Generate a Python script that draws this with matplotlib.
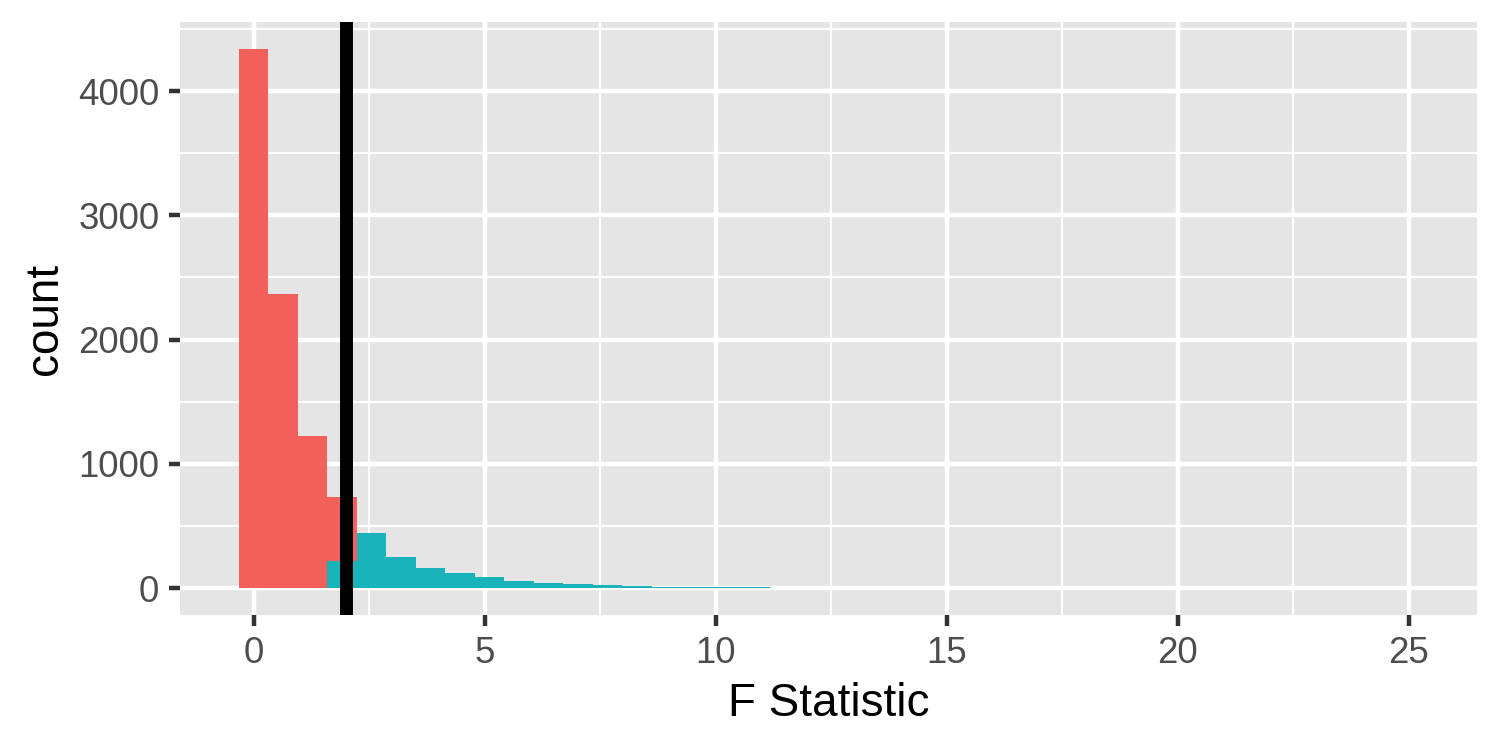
import matplotlib
matplotlib.use("Agg")
import matplotlib.pyplot as plt
import numpy as np
from matplotlib.ticker import MultipleLocator

# histogram bins (40 bins, ggplot style)
bin_start = -0.32
bin_width = 0.638
n_bins = 40

# counts per bin: F below the critical value / above it
count_below = [4340, 2369, 1223, 516] + [0] * 36
count_above = [0, 0, 0, 215, 441, 247, 159, 119, 86, 54,
               39, 36, 23, 20, 11, 9, 8, 8, 4, 2,
               3, 2, 3, 3, 1, 0, 1, 0, 0, 0,
               1, 0, 0, 0, 0, 0, 0, 0, 0, 1]
f_critical = 2.0

x_ticks = [0, 5, 10, 15, 20, 25]
y_ticks = [0, 1000, 2000, 3000, 4000]

red = "#F35F5B"
teal = "#19B4B9"
panel_bg = "#E5E5E5"

plt.rcParams["font.family"] = ["Liberation Sans", "DejaVu Sans"]

fig = plt.figure(figsize=(5, 2.5), dpi=300)
ax = fig.add_axes([0.12, 0.18, 0.8647, 0.7907])

left = bin_start + bin_width * np.arange(n_bins)
below = np.array(count_below)
above = np.array(count_above)

# teal stacked at the bottom, red on top (ggplot stacking order)
ax.bar(left, above, width=bin_width, align="edge", color=teal, linewidth=0, zorder=3)
ax.bar(left, below, width=bin_width, bottom=above, align="edge", color=red,
       linewidth=0, zorder=3)
ax.axvline(f_critical, color="black", linewidth=3.1, zorder=4)

# ggplot-like expansion
x0, x1 = left[0], left[-1] + bin_width
dx = (x1 - x0) * 0.05
ax.set_xlim(x0 - dx, x1 + dx)
ymax = (below + above).max()
ax.set_ylim(-0.05 * ymax, 1.05 * ymax)

ax.set_facecolor(panel_bg)
for s in ax.spines.values():
    s.set_visible(False)

ax.set_xticks(x_ticks)
ax.set_yticks(y_ticks)
ax.xaxis.set_minor_locator(MultipleLocator(2.5))
ax.yaxis.set_minor_locator(MultipleLocator(500))
ax.grid(which="major", color="white", linewidth=1.07, zorder=1)
ax.grid(which="minor", color="white", linewidth=0.53, zorder=1)
ax.set_axisbelow(True)
ax.tick_params(which="major", length=2.75, width=1.07, color="#333333",
               labelsize=8.8, labelcolor="#4D4D4D", pad=2.2)
ax.tick_params(which="minor", length=0)

ax.set_xlabel("F Statistic", fontsize=11, labelpad=2.75)
ax.set_ylabel("count", fontsize=11, labelpad=2.75)

fig.savefig("out.png", dpi=300)
